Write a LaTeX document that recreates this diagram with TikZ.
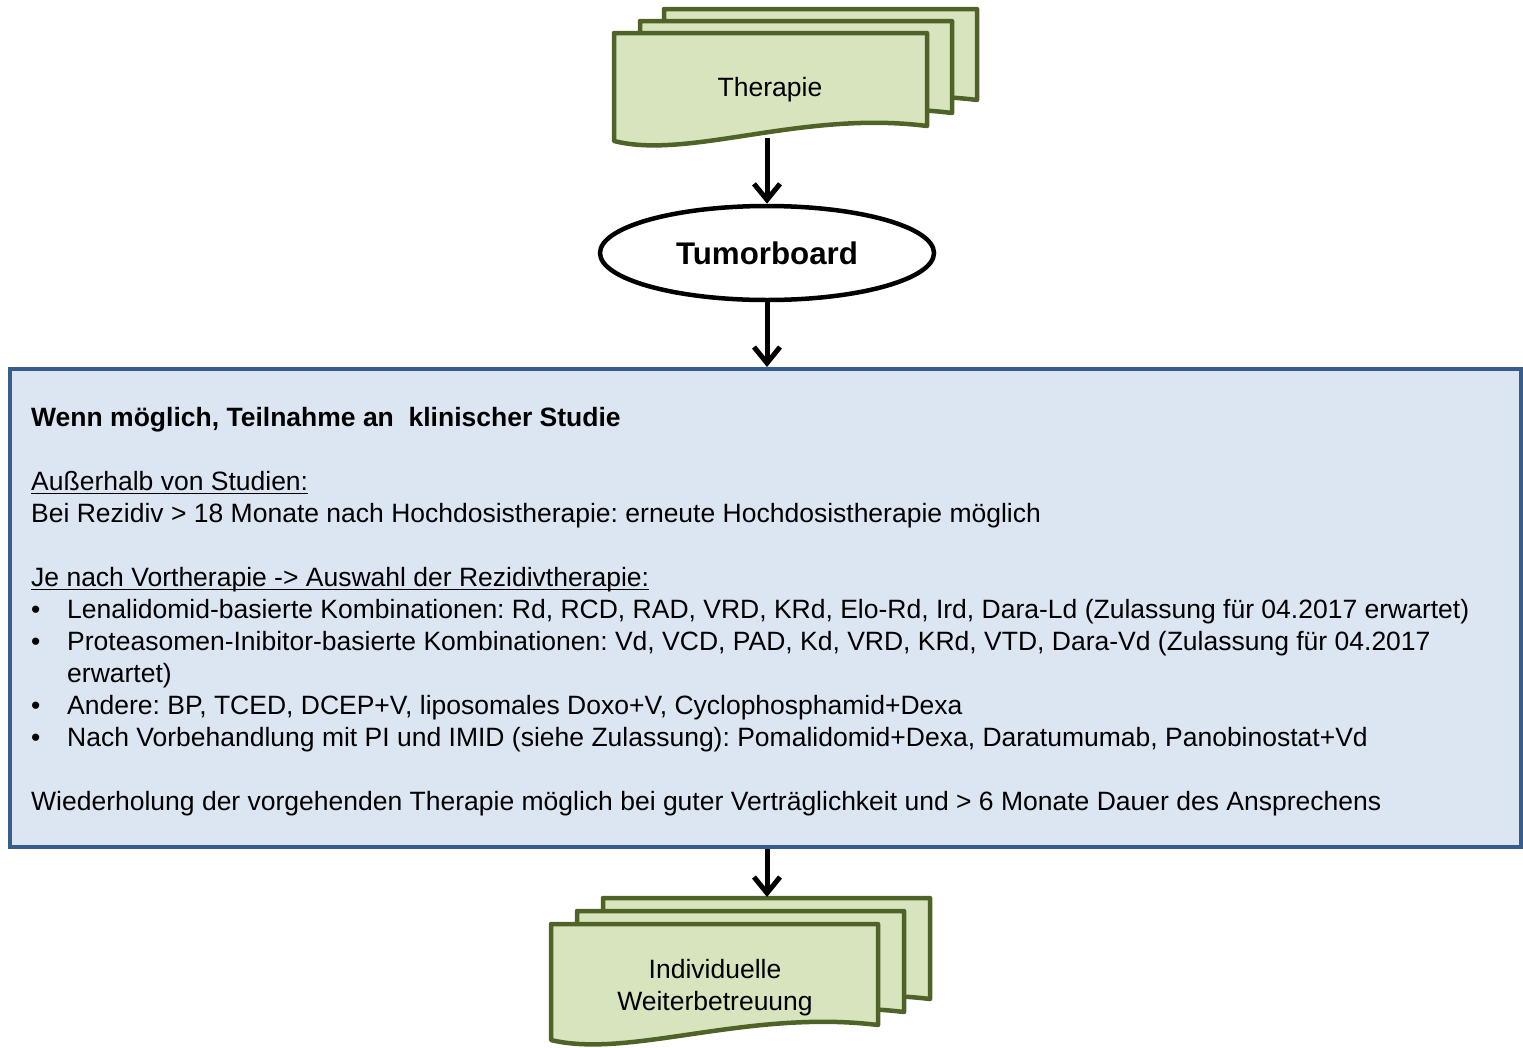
\documentclass[tikz,border=0pt]{standalone}
\usepackage{fontspec}
\setmainfont{Liberation Sans}
\usetikzlibrary{arrows.meta,shapes.geometric}
\definecolor{docfill}{HTML}{D7E4BD}
\definecolor{docline}{HTML}{4F6228}
\definecolor{boxfill}{HTML}{DCE6F2}
\definecolor{boxline}{HTML}{385D8A}
\newcommand{\docpath}[4]{(#1,#2) -- (#3,#2) -- (#3,#4) .. controls ({#1+0.6*(#3-#1)},{#4-16}) and ({#1+0.24*(#3-#1)},{#4+34}) .. (#1,{#4+15}) -- cycle}
\tikzset{
  doc/.style={draw=docline, fill=docfill, line width=4.5pt, line join=round},
  arr/.style={line width=5pt, -{Straight Barb[length=16pt,width=26pt]}},
  txt/.style={anchor=base west, inner sep=0pt, font=\fontsize{26.5}{32}\selectfont},
  ctext/.style={inner sep=0pt, align=center, font=\fontsize{26.5}{32}\selectfont},
  ul/.style={line width=1.4pt},
}
\begin{document}
\frenchspacing
\begin{tikzpicture}[x=1pt,y=-1pt]
\useasboundingbox (0,0) rectangle (1523,1047);
% Therapie stack
\draw[doc] \docpath{664}{9}{977}{100};
\draw[doc] \docpath{640}{21}{952}{113};
\draw[doc] \docpath{614}{33}{927}{126};
\node[ctext] (ther) at (770,90) {Therapie};
\coordinate (therbot) at (767,138);
% Tumorboard
\node[draw=black, fill=white, ellipse, line width=4.5pt, inner sep=0pt,
      minimum width=334pt, minimum height=94pt,
      font=\bfseries\fontsize{31.3}{36}\selectfont] (tb) at (767,253) {Tumorboard};
% main box
\node[draw=boxline, fill=boxfill, line width=4pt, rectangle, inner sep=0pt,
      minimum width=1511pt, minimum height=478pt] (box) at (765.5,608) {};
% Individuelle stack
\draw[doc] \docpath{603}{898}{930}{999};
\draw[doc] \docpath{577}{911}{904}{1012};
\draw[doc] \docpath{551}{924}{878}{1025};
\node[ctext] (ind) at (715,988) {Individuelle\\Weiterbetreuung};
\coordinate (indtop) at (767,897);
% connectors
\draw[arr] (therbot) -- (tb.north);
\draw[arr] (tb.south) -- (tb.south |- box.north);
\draw[arr] (indtop |- box.south) -- (indtop);
% text
\node[txt, font=\bfseries\fontsize{26.5}{32}\selectfont] (t1) at (31,426) {Wenn möglich, Teilnahme an\ \ klinischer Studie};
\node[txt] (t2) at (31,490) {Außerhalb von Studien:};
\draw[ul] ([yshift=-3.5pt]t2.base west) -- ([yshift=-3.5pt]t2.base east);
\node[txt] (t3) at (31,522) {Bei Rezidiv > 18 Monate nach Hochdosistherapie: erneute Hochdosistherapie möglich};
\node[txt] (t4) at (31,586) {Je nach Vortherapie -> Auswahl der Rezidivtherapie:};
\draw[ul] ([yshift=-3.5pt]t4.base west) -- ([yshift=-3.5pt]t4.base east);
\node[txt] (b1) at (31,618) {•};
\node[txt] (t5) at (67,618) {Lenalidomid-basierte Kombinationen: Rd, RCD, RAD, VRD, KRd, Elo-Rd, Ird, Dara-Ld (Zulassung für 04.2017 erwartet)};
\node[txt] (b2) at (31,650) {•};
\node[txt] (t6) at (67,650) {Proteasomen-Inibitor-basierte Kombinationen: Vd, VCD, PAD, Kd, VRD, KRd, VTD, Dara-Vd (Zulassung für 04.2017};
\node[txt] (t7) at (67,682) {erwartet)};
\node[txt] (b3) at (31,714) {•};
\node[txt] (t8) at (67,714) {Andere: BP, TCED, DCEP+V, liposomales Doxo+V, Cyclophosphamid+Dexa};
\node[txt] (b4) at (31,746) {•};
\node[txt] (t9) at (67,746) {Nach Vorbehandlung mit PI und IMID (siehe Zulassung): Pomalidomid+Dexa, Daratumumab, Panobinostat+Vd};
\node[txt] (t10) at (31,810) {Wiederholung der vorgehenden Therapie möglich bei guter Verträglichkeit und > 6 Monate Dauer des Ansprechens};
\end{tikzpicture}
\end{document}
